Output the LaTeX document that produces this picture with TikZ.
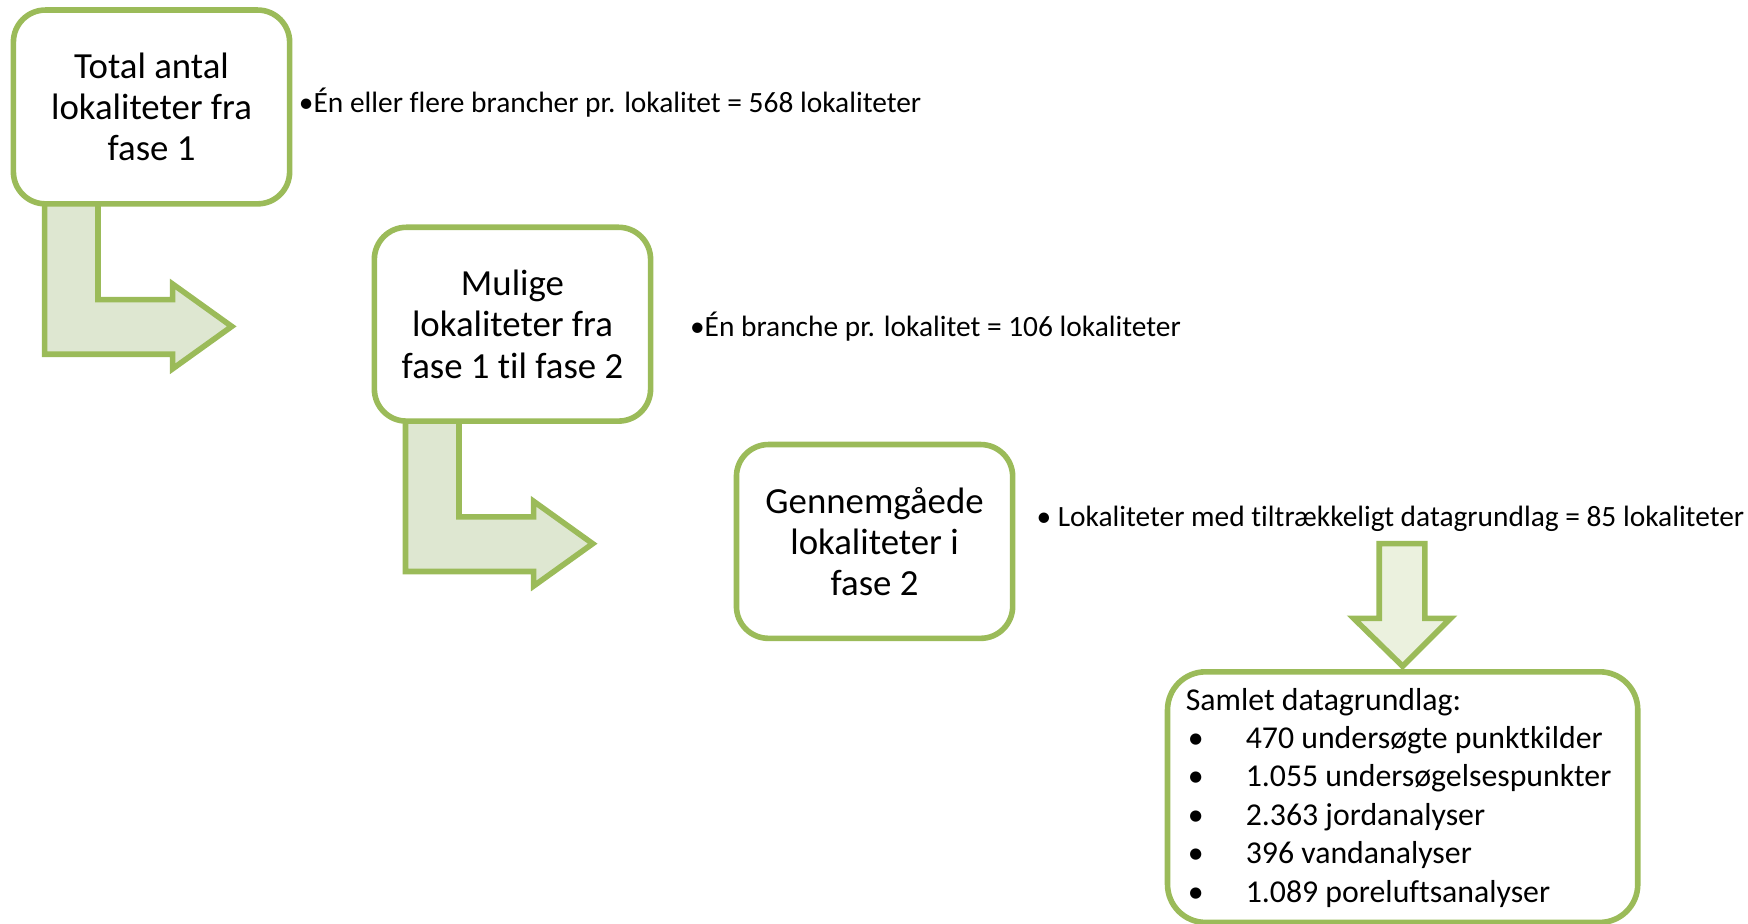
\documentclass[tikz,border=0pt]{standalone}
\usepackage{fontspec}
\setmainfont{Carlito}[Ligatures={NoCommon}]
\definecolor{olive}{HTML}{9BBB59}
\definecolor{arrowfill}{HTML}{DEE7D1}
\definecolor{downfill}{HTML}{EBF1DE}
\begin{document}
\begin{tikzpicture}[x=0.557pt,y=-0.557pt,
  stagebox/.style={draw=olive,line width=2.8pt,fill=white,rounded corners=16pt,
    minimum width=138.1pt,minimum height=96.9pt,inner sep=0pt,outer sep=0pt,
    align=center,font=\fontsize{18.4}{20.6}\selectfont},
  sumbox/.style={draw=olive,line width=2.8pt,fill=white,rounded corners=19pt,
    minimum width=235.1pt,minimum height=125.3pt,inner sep=0pt,outer sep=0pt},
  note/.style={anchor=west,inner sep=0pt,font=\fontsize{14.7}{17}\selectfont},
  bentarrow/.style={draw=olive,line width=2.8pt,fill=arrowfill,line join=miter},
  downarrow/.style={draw=olive,line width=2.8pt,fill=downfill,line join=miter}]
\useasboundingbox (0,0) rectangle (1569,829);
% bent arrows
\draw[bentarrow] (40,176) -- (88,176) -- (88,269) -- (155,269) -- (155,255) -- (208,293)
  -- (155,331) -- (155,318) -- (40,318) -- cycle;
\draw[bentarrow] (364,371) -- (412,371) -- (412,464) -- (479,464) -- (479,450) -- (532,488)
  -- (479,526) -- (479,513) -- (364,513) -- cycle;
% boxes
\node[stagebox] (b1) at (136,96) {Total antal\\lokaliteter fra\\fase 1};
\node[stagebox] (b2) at (460,291) {Mulige\\lokaliteter fra\\fase 1 til fase 2};
\node[stagebox] (b3) at (785,486) {Gennemgåede\\lokaliteter i\\fase 2};
\node[sumbox] (b4) at (1259,715.5) {};
\node[anchor=west,inner sep=0pt,align=left,font=\fontsize{15.9}{19.2}\selectfont] (t4) at (1064,716)
  {Samlet datagrundlag:\\
   \makebox[30pt][l]{\hspace{1pt}•}470 undersøgte punktkilder\\
   \makebox[30pt][l]{\hspace{1pt}•}1.055 undersøgelsespunkter\\
   \makebox[30pt][l]{\hspace{1pt}•}2.363 jordanalyser\\
   \makebox[30pt][l]{\hspace{1pt}•}396 vandanalyser\\
   \makebox[30pt][l]{\hspace{1pt}•}1.089 poreluftsanalyser};
% down arrow
\draw[downarrow] (1238,488) -- (1279,488) -- (1279,555) -- (1302,555) -- (1259,598)
  -- (1215,555) -- (1238,555) -- cycle;
% notes
\node[note] (n1) at (268,92) {•Én eller flere brancher pr. lokalitet = 568 lokaliteter};
\node[note] (n2) at (619,293) {•Én branche pr. lokalitet = 106 lokaliteter};
\node[note] (n3) at (930,466) {• Lokaliteter med tiltrækkeligt datagrundlag = 85 lokaliteter};
\end{tikzpicture}
\end{document}
